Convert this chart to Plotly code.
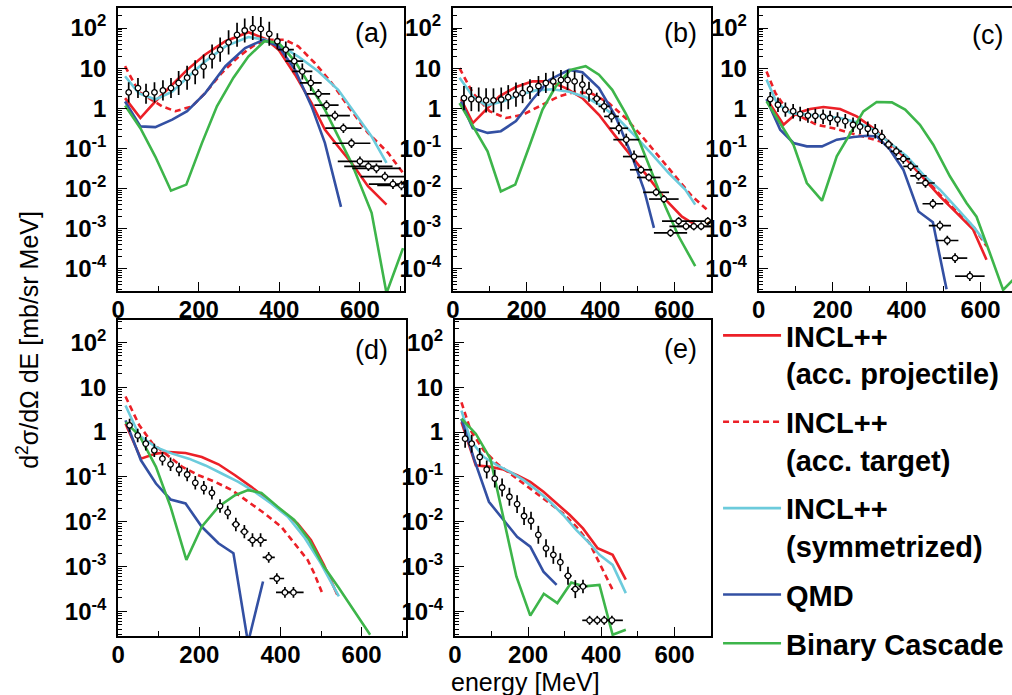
import plotly.graph_objects as go

W, H = 1012, 695

# ---------------- panel (a) ----------------
a_data_x = [26, 49, 69, 90, 111, 131, 150, 171, 191, 212, 233, 253, 274, 295, 314, 334, 354, 375, 395,
            416, 437, 457, 478, 497, 517, 538, 559, 579, 600, 621, 641, 662, 682, 703]
a_data_y = [2.5, 3.2, 2.3, 2.5, 2.8, 3.2, 4.3, 5.8, 7.9, 11, 19.5, 29, 44, 68, 87, 100, 95, 72, 47,
            29, 15, 8.3, 4.3, 2.3, 1.2, 0.66, 0.32, 0.135, 0.048, 0.036, 0.032, 0.020, 0.013, 0.012]
a_data_edec = [0.25] * 6 + [0.3] * 12 + [0.2] * 5 + [0.12] * 11
a_data_xerr = [4] * 19 + [20, 22, 25, 27, 29, 30, 37, 45, 47, 55, 60, 60, 60, 60, 60]

a_proj_x = [17, 55, 92, 134, 171, 216, 266, 323, 365, 398, 439, 480, 513, 546, 579, 620, 666]
a_proj_y = [1.8, 0.575, 1.48, 3.9, 9.1, 22, 47, 79, 54, 29, 6.9, 1.35, 0.295, 0.112, 0.044, 0.0115, 0.004]
a_targ_x = [17, 51, 109, 142, 183, 216, 257, 299, 340, 373, 414, 447, 488, 530, 571, 620, 670, 707]
a_targ_y = [11.2, 2.6, 1.12, 0.85, 1.12, 2.4, 7.6, 19.5, 39, 51, 51, 35, 13.5, 4.3, 1.12, 0.245, 0.078, 0.0245]
a_sym_x = [17, 51, 92, 134, 175, 216, 266, 323, 365, 406, 447, 497, 546, 587, 629, 666]
a_sym_y = [6.3, 2.4, 1.66, 2.6, 6.3, 14.8, 35, 60, 51, 35, 19.5, 8.3, 2.9, 0.76, 0.2, 0.044]
a_qmd_x = [17, 55, 92, 134, 171, 216, 266, 315, 360, 398, 439, 480, 513, 534, 553]
a_qmd_y = [1.48, 0.355, 0.34, 0.525, 0.85, 2.4, 11.2, 31.6, 51, 35, 9.1, 1.12, 0.138, 0.0204, 0.0035]
a_bc_x = [17, 55, 92, 131, 169, 208, 245, 286, 323, 363, 398, 439, 480, 513, 546, 579, 629, 666, 707]
a_bc_y = [1.17, 0.32, 0.063, 0.0089, 0.0126, 0.138, 1.12, 5.8, 19.5, 47, 43, 14.8, 3.2, 0.93, 0.2, 0.044,
          0.0025, 0.000025, 0.00033]

# ---------------- panel (b) ----------------
b_data_x = [30, 50, 70, 90, 110, 131, 150, 171, 189, 209, 232, 252, 272, 293, 311, 330, 351, 369, 390,
            410, 430, 450, 470, 491, 510, 531, 551, 572, 590, 612, 632, 653, 673, 691]
b_data_y = [1.8, 1.7, 1.66, 1.58, 1.58, 1.66, 1.9, 2.2, 2.4, 3.0, 3.6, 4.3, 4.7, 5.1, 5.1, 4.7, 3.9, 2.6,
            1.74, 1.12, 0.63, 0.32, 0.166, 0.063, 0.0295, 0.019, 0.0081, 0.0055, 0.00079, 0.00155,
            0.00115, 0.00115, 0.00115, 0.00155]
b_data_edec = [0.3] * 8 + [0.25] * 10 + [0.15] * 6 + [0.1] * 10
b_data_xerr = [4] * 18 + [12, 15, 20, 25, 35, 30, 30, 32, 35, 40, 45, 45, 45, 45, 45, 45]

b_proj_x = [22, 54, 90, 126, 171, 216, 261, 306, 351, 396, 441, 486, 531, 576, 621, 657]
b_proj_y = [1.7, 0.43, 0.93, 2.0, 3.4, 4.7, 4.7, 3.2, 1.8, 0.69, 0.2, 0.063, 0.0186, 0.0054, 0.002, 0.00126]
b_targ_x = [18, 54, 99, 144, 189, 234, 288, 333, 378, 423, 468, 513, 558, 603, 648, 689]
b_targ_y = [10, 2.4, 0.85, 0.575, 0.69, 1.12, 2.0, 2.6, 2.3, 1.35, 0.575, 0.2, 0.063, 0.0204, 0.0065, 0.003]
b_sym_x = [18, 54, 90, 135, 180, 225, 270, 315, 360, 405, 450, 495, 540, 585, 630, 657]
b_sym_y = [5.75, 2.0, 1.17, 1.48, 2.19, 2.8, 3.0, 2.6, 1.9, 1.12, 0.525, 0.2, 0.071, 0.0245, 0.0095, 0.004]
b_qmd_x = [22, 54, 94, 130, 171, 216, 261, 315, 351, 396, 441, 486, 518, 545]
b_qmd_y = [1.48, 0.32, 0.245, 0.27, 0.48, 1.66, 5.1, 9.1, 7.9, 3.2, 0.63, 0.063, 0.0095, 0.00105]
b_bc_x = [18, 54, 94, 130, 169, 207, 243, 279, 319, 360, 396, 432, 468, 504, 540, 576, 612, 657]
b_bc_y = [1.35, 0.355, 0.085, 0.0085, 0.0126, 0.112, 0.93, 3.55, 9.1, 11.2, 6.9, 2.9, 0.76, 0.166, 0.0245,
          0.0036, 0.00065, 0.000117]

# ---------------- panel (c) ----------------
c_data_x = [31, 52, 72, 93, 112, 133, 153, 174, 193, 213, 234, 255, 274, 295, 315, 333, 351, 372, 391,
            411, 432, 451, 471, 490, 510, 531, 571]
c_data_y = [1.7, 1.23, 0.93, 0.85, 0.72, 0.66, 0.65, 0.62, 0.575, 0.525, 0.48, 0.39, 0.35, 0.31, 0.27,
            0.195, 0.126, 0.085, 0.055, 0.036, 0.0209, 0.0138, 0.0042, 0.0012, 0.00051, 0.000186, 0.000066]
c_data_edec = [0.18] * 16 + [0.12] * 11
c_data_xerr = [4] * 14 + [8, 10, 12, 15, 18, 20, 22, 25, 28, 30, 30, 33, 40]

c_proj_x = [22, 67, 103, 139, 175, 220, 265, 310, 355, 400, 445, 490, 535, 580, 616]
c_proj_y = [1.7, 0.39, 0.76, 0.96, 1.08, 0.96, 0.63, 0.32, 0.137, 0.053, 0.0185, 0.0064, 0.0025, 0.00095, 0.00017]
c_targ_x = [21, 45, 76, 112, 157, 202, 247, 292, 328, 364, 400, 445, 490, 535, 580, 616]
c_targ_y = [8.3, 2.4, 0.93, 0.63, 0.39, 0.32, 0.245, 0.182, 0.151, 0.103, 0.058, 0.0203, 0.0071, 0.0027,
            0.00115, 0.00037]
c_sym_x = [21, 49, 85, 130, 175, 220, 265, 310, 355, 400, 445, 490, 535, 580, 615]
c_sym_y = [5.2, 1.36, 0.77, 0.70, 0.66, 0.575, 0.45, 0.295, 0.137, 0.064, 0.0223, 0.0094, 0.0033, 0.00115, 0.00044]
c_qmd_x = [21, 58, 94, 130, 171, 211, 256, 292, 319, 355, 391, 432, 471, 508]
c_qmd_y = [1.7, 0.295, 0.137, 0.113, 0.113, 0.166, 0.193, 0.208, 0.2, 0.0935, 0.0297, 0.0027, 0.00145, 0.000031]
c_bc_x = [21, 58, 94, 130, 171, 211, 283, 319, 360, 396, 436, 472, 517, 562, 589, 625, 661, 688]
c_bc_y = [1.5, 0.43, 0.124, 0.0138, 0.005, 0.064, 0.84, 1.44, 1.41, 0.93, 0.39, 0.124, 0.0203, 0.0044, 0.002,
          0.00025, 0.00003, 0.000054]

# ---------------- panel (d) ----------------
d_data_x = [28, 48, 68, 89, 109, 129, 150, 170, 190, 211, 231, 251, 270, 290, 311, 331, 351, 371, 391, 411, 432]
d_data_y = [1.41, 0.84, 0.55, 0.39, 0.255, 0.191, 0.146, 0.113, 0.0736, 0.057, 0.044, 0.0223, 0.0161,
            0.0087, 0.006, 0.0039, 0.0039, 0.0016, 0.00054, 0.000264, 0.000264]
d_data_edec = [0.15] * 17 + [0.12] * 4
d_data_xerr = [4] * 12 + [8, 10, 10, 12, 15, 15, 18, 22, 25]

d_proj_x = [18, 56, 93, 125, 166, 206, 247, 288, 328, 369, 410, 442, 475, 507, 540]
d_proj_y = [1.53, 0.255, 0.33, 0.36, 0.34, 0.278, 0.191, 0.109, 0.06, 0.0303, 0.0153, 0.0092, 0.0039,
            0.00109, 0.000234]
d_targ_x = [18, 52, 85, 117, 158, 198, 239, 280, 320, 361, 402, 434, 467, 483, 503]
d_targ_y = [6.2, 1.41, 0.55, 0.33, 0.167, 0.109, 0.0774, 0.0506, 0.0278, 0.0153, 0.0077, 0.0033, 0.0014,
            0.00071, 0.000255]
d_sym_x = [18, 52, 93, 133, 174, 215, 255, 296, 337, 377, 418, 458, 499, 544]
d_sym_y = [3.9, 0.84, 0.46, 0.33, 0.255, 0.18, 0.119, 0.0774, 0.0464, 0.0255, 0.0129, 0.0046, 0.00119, 0.000215]
d_qmd_x = [18, 56, 93, 129, 166, 206, 247, 284, 320, 357]
d_qmd_y = [1.82, 0.234, 0.071, 0.0313, 0.0255, 0.0077, 0.0033, 0.00198, 0.00002, 0.000464]
d_bc_x = [18, 52, 93, 129, 168, 206, 247, 288, 320, 353, 393, 434, 471, 507, 544, 580, 621]
d_bc_y = [1.67, 0.84, 0.167, 0.0215, 0.0014, 0.0077, 0.0215, 0.039, 0.0506, 0.044, 0.0215, 0.0109, 0.0039,
          0.001, 0.00033, 0.000109, 0.00003]

# ---------------- panel (e) ----------------
e_data_x = [28, 46, 68, 87, 109, 129, 149, 170, 189, 208, 228, 249, 269, 288, 309, 329, 350, 368, 389, 408, 429]
e_data_y = [0.71, 0.55, 0.278, 0.146, 0.0918, 0.058, 0.036, 0.0247, 0.0134, 0.0105, 0.0051, 0.00255,
            0.00182, 0.00125, 0.00062, 0.000313, 0.00036, 0.000063, 0.000063, 0.000063, 0.000063]
e_data_edec = [0.2] * 16 + [0.15, 0.1, 0.1, 0.1, 0.1]
e_data_xerr = [4] * 13 + [8, 10, 12, 12, 20, 20, 20, 30]

e_proj_x = [18, 57, 97, 133, 170, 206, 242, 278, 314, 350, 390, 431, 467]
e_proj_y = [1.67, 0.182, 0.167, 0.146, 0.109, 0.0774, 0.0464, 0.0255, 0.0141, 0.0071, 0.00255, 0.00182, 0.00051]
e_targ_x = [18, 43, 79, 115, 151, 188, 224, 260, 296, 332, 368, 395, 422, 431]
e_targ_y = [4.6, 1.09, 0.39, 0.198, 0.119, 0.071, 0.0427, 0.0255, 0.0153, 0.0077, 0.0033, 0.00119,
            0.000427, 0.000303]
e_sym_x = [18, 43, 79, 115, 151, 188, 224, 260, 296, 332, 368, 395, 431, 467]
e_sym_y = [3.0, 0.65, 0.278, 0.182, 0.129, 0.0843, 0.0506, 0.0278, 0.0141, 0.0065, 0.0033, 0.00182,
           0.00109, 0.000255]
e_qmd_x = [18, 52, 93, 133, 170, 206, 242, 278]
e_qmd_y = [1.98, 0.255, 0.0278, 0.0109, 0.0046, 0.00278, 0.00077, 0.00039]
e_bc_x = [18, 57, 97, 133, 168, 206, 243, 280, 318, 354, 395, 431, 467]
e_bc_y = [1.98, 0.92, 0.255, 0.0129, 0.0006, 0.00008, 0.000247, 0.000153, 0.00044, 0.00036, 0.00039,
          0.00003, 0.000039]

panel_labels = ["(a)", "(b)", "(c)", "(d)", "(e)"]
model_names = ["INCL++<br>(acc. projectile)", "INCL++<br>(acc. target)", "INCL++<br>(symmetrized)",
               "QMD", "Binary Cascade"]
model_colors = ["#ec2027", "#ec2027", "#6ccbdc", "#3350a3", "#3db54a"]
model_dash = ["solid", "6px,4px", "solid", "solid", "solid"]

y_tickvals = [1e-4, 1e-3, 1e-2, 1e-1, 1, 10, 100]
y_ticktext = ["10<sup>-4</sup>", "10<sup>-3</sup>", "10<sup>-2</sup>", "10<sup>-1</sup>", "1", "10", "10<sup>2</sup>"]
x_tickvals = [0, 200, 400, 600]
x_ticktext = ["0", "200", "400", "600"]

panels = [
    dict(data=(a_data_x, a_data_y, a_data_edec, a_data_xerr),
         models=[(a_proj_x, a_proj_y), (a_targ_x, a_targ_y), (a_sym_x, a_sym_y), (a_qmd_x, a_qmd_y), (a_bc_x, a_bc_y)],
         px=(112, 400), py=(8, 291), xr=(0, 710), lab=(386, 33), mirror=True),
    dict(data=(b_data_x, b_data_y, b_data_edec, b_data_xerr),
         models=[(b_proj_x, b_proj_y), (b_targ_x, b_targ_y), (b_sym_x, b_sym_y), (b_qmd_x, b_qmd_y), (b_bc_x, b_bc_y)],
         px=(449, 709), py=(8, 291), xr=(0, 700), lab=(697, 33), mirror=True),
    dict(data=(c_data_x, c_data_y, c_data_edec, c_data_xerr),
         models=[(c_proj_x, c_proj_y), (c_targ_x, c_targ_y), (c_sym_x, c_sym_y), (c_qmd_x, c_qmd_y), (c_bc_x, c_bc_y)],
         px=(757, 1012), py=(8, 291), xr=(0, 685), lab=(1005, 35), mirror=False),
    dict(data=(d_data_x, d_data_y, d_data_edec, d_data_xerr),
         models=[(d_proj_x, d_proj_y), (d_targ_x, d_targ_y), (d_sym_x, d_sym_y), (d_qmd_x, d_qmd_y), (d_bc_x, d_bc_y)],
         px=(112, 402), py=(320, 636), xr=(0, 710), lab=(386, 350), mirror=True),
    dict(data=(e_data_x, e_data_y, e_data_edec, e_data_xerr),
         models=[(e_proj_x, e_proj_y), (e_targ_x, e_targ_y), (e_sym_x, e_sym_y), (e_qmd_x, e_qmd_y), (e_bc_x, e_bc_y)],
         px=(451, 709), py=(320, 636), xr=(0, 700), lab=(697, 349), mirror=True),
]

FONT = "Liberation Sans, Arial, Helvetica, sans-serif"
fig = go.Figure()
annotations = []
layout_axes = {}

minor_y = [k * 10.0 ** d for d in range(-5, 3) for k in range(2, 10)]

for i, p in enumerate(panels):
    n = "" if i == 0 else str(i + 1)
    xref, yref = "x" + n, "y" + n
    dx, dy, dedec, dxerr = p["data"]
    for m, (mx, my) in enumerate(p["models"]):
        fig.add_trace(go.Scatter(
            x=mx, y=my, mode="lines", xaxis=xref, yaxis=yref,
            line=dict(color=model_colors[m], width=2.6, dash=model_dash[m]),
            name=model_names[m], legendgroup="g%d" % m, showlegend=(i == 0)))
    eplus = [y * (10 ** e - 1) for y, e in zip(dy, dedec)]
    eminus = [y * (1 - 10 ** (-e)) for y, e in zip(dy, dedec)]
    fig.add_trace(go.Scatter(
        x=dx, y=dy, mode="markers", xaxis=xref, yaxis=yref, showlegend=False, name="data",
        marker=dict(symbol="circle", size=5.5, color="white", line=dict(color="black", width=1.3)),
        error_y=dict(type="data", array=eplus, arrayminus=eminus, symmetric=False,
                     color="black", thickness=1.7, width=0),
        error_x=dict(type="data", array=dxerr, color="black", thickness=1.7, width=0)))

    layout_axes["xaxis" + n] = dict(
        domain=[p["px"][0] / W, p["px"][1] / W], range=list(p["xr"]), anchor=yref,
        tickmode="array", tickvals=x_tickvals, ticktext=x_ticktext,
        ticks="inside", ticklen=9, tickwidth=1.3, tickcolor="black",
        minor=dict(ticks="inside", ticklen=5, tickwidth=1, tickcolor="black", dtick=100, tick0=0, showgrid=False),
        showline=True, linecolor="black", linewidth=2, mirror=True,
        showgrid=False, zeroline=False, ticklabelstandoff=-4,
        tickfont=dict(family=FONT, size=24, color="black", weight="bold"))
    layout_axes["yaxis" + n] = dict(
        domain=[1 - p["py"][1] / H, 1 - p["py"][0] / H], type="log", range=[-4.55, 2.5], anchor=xref,
        tickmode="array", tickvals=y_tickvals, ticktext=y_ticktext,
        ticks="inside", ticklen=9, tickwidth=1.3, tickcolor="black",
        minor=dict(ticks="inside", ticklen=4, tickwidth=1, tickcolor="black", tickmode="array",
                   tickvals=minor_y, showgrid=False),
        showline=True, linecolor="black", linewidth=2, mirror=p["mirror"],
        showgrid=False, zeroline=False, ticklabelstandoff=5,
        tickfont=dict(family=FONT, size=24, color="black", weight="bold"))
    annotations.append(dict(
        text=panel_labels[i], xref="paper", yref="paper",
        x=p["lab"][0] / W, y=1 - p["lab"][1] / H, xanchor="right", yanchor="middle",
        showarrow=False, font=dict(family=FONT, size=27, color="black")))

annotations.append(dict(
    text="d<sup>2</sup>σ/dΩ dE [mb/sr MeV]", xref="paper", yref="paper",
    x=21 / W, y=1 - 340 / H, xanchor="center", yanchor="middle", textangle=-90,
    showarrow=False, font=dict(family=FONT, size=25, color="black")))
annotations.append(dict(
    text="energy [MeV]", xref="paper", yref="paper",
    x=522 / W, y=1 - 682 / H, xanchor="center", yanchor="middle",
    showarrow=False, font=dict(family=FONT, size=25, color="black")))

fig.update_layout(
    width=W, height=H, margin=dict(l=0, r=0, t=0, b=0),
    paper_bgcolor="white", plot_bgcolor="white",
    showlegend=True,
    legend=dict(x=716 / W, y=1 - 310 / H, xanchor="left", yanchor="top",
                font=dict(family=FONT, size=29, color="black", weight="bold"),
                traceorder="grouped", tracegroupgap=8, valign="top",
                itemwidth=58, bgcolor="rgba(0,0,0,0)", borderwidth=0),
    annotations=annotations,
    **layout_axes)

fig.write_html("out.html", config={"displayModeBar": False},
               post_script="document.body.style.margin='0';document.body.style.overflow='hidden';")
